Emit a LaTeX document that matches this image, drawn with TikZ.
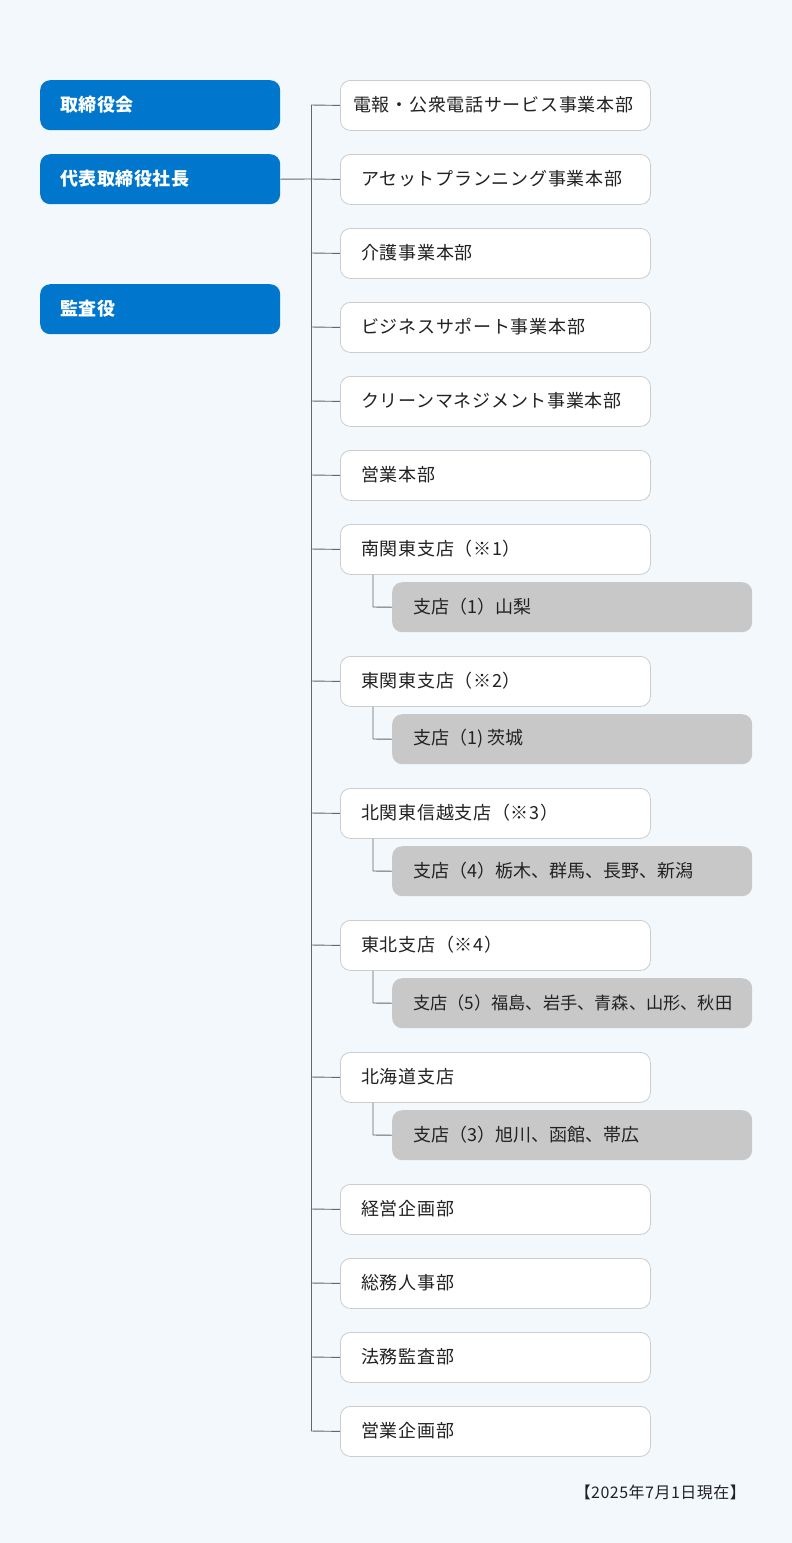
\documentclass[tikz,border=0pt]{standalone}
\usepackage{fontspec}
\newfontfamily\jp{Noto Sans CJK JP}[LetterSpace=4]
\newfontfamily\jpb{Noto Sans CJK JP}[LetterSpace=3]
\newfontfamily\jpg{Noto Sans CJK JP}
\definecolor{bg}{HTML}{F2F8FC}
\definecolor{blu}{HTML}{0077CC}
\definecolor{gry}{HTML}{C8C8C8}
\definecolor{bord}{HTML}{CCCCCC}
\definecolor{lin}{HTML}{666666}
\definecolor{txt}{HTML}{222222}
\tikzset{
  bluebox/.style={fill=blu, rounded corners=10pt, minimum width=240pt, minimum height=50pt, inner sep=0pt, anchor=north west},
  whitebox/.style={fill=white, draw=bord, line width=0.8pt, rounded corners=10pt, minimum width=310pt, minimum height=50pt, inner sep=0pt, anchor=north west},
  graybox/.style={fill=gry, rounded corners=10pt, minimum width=360pt, minimum height=50pt, inner sep=0pt, anchor=north west},
  btext/.style={anchor=west, inner sep=0pt, text=white, font=\jpb\bfseries\fontsize{18}{21}\selectfont},
  wtext/.style={anchor=west, inner sep=0pt, text=txt, font=\jp\fontsize{18}{21}\selectfont},
  gtext/.style={anchor=west, inner sep=0pt, text=txt, font=\jpg\fontsize{18}{21}\selectfont},
  conn/.style={draw=lin, line width=0.9pt},
}
\begin{document}
\begin{tikzpicture}[x=1pt,y=-1pt]
\fill[bg] (0,0) rectangle (792,1543);
\useasboundingbox (0,0) rectangle (792,1543);
% blue boxes
\node[bluebox] (b1) at (40,80) {};
\node[btext] at (60,105) {取締役会};
\node[bluebox] (b2) at (40,154) {};
\node[btext] at (60,179) {代表取締役社長};
\node[bluebox] (b3) at (40,284) {};
\node[btext] at (60,309) {監査役};
% trunk
\coordinate (tTop) at (311,105);
\coordinate (tBot) at (311,1431);
\draw[conn] (tTop) -- (tBot);
\coordinate (tMid) at (311,179);
\draw[conn] (b2.east) -- (tMid);
% white boxes
\foreach \n/\y/\x/\t in {w1/80/353/電報・公衆電話サービス事業本部, w2/154/361/アセットプランニング事業本部, w3/228/361/介護事業本部, w4/302/361/ビジネスサポート事業本部, w5/376/361/クリーンマネジメント事業本部, w6/450/361/営業本部, w7/524/361/南関東支店（※1）, w8/656/361/東関東支店（※2）, w9/788/361/北関東信越支店（※3）, w10/920/361/東北支店（※4）, w11/1052/361/北海道支店, w12/1184/361/経営企画部, w13/1258/361/総務人事部, w14/1332/361/法務監査部, w15/1406/361/営業企画部}{
  \node[whitebox] (\n) at (340,\y) {};
  \node[wtext] at (\x,\y+25) {\t};
  \coordinate (\n-j) at (311,\y+25);
  \draw[conn] (\n-j) -- (\n.west);
}
% gray boxes
\foreach \n/\p/\y/\s/\t in {g1/w7/582/18/支店（1）山梨, g2/w8/714/18/支店（1) 茨城, g3/w9/846/18/支店（4）栃木、群馬、長野、新潟, g4/w10/978/17.2/支店（5）福島、岩手、青森、山形、秋田, g5/w11/1110/18/支店（3）旭川、函館、帯広}{
  \node[graybox] (\n) at (392,\y) {};
  \node[gtext] at (413,\y+25) {\fontsize{\s}{21}\selectfont\t};
  \coordinate (\n-c) at (373,\y+25);
  \draw[conn] (\p.south -| \n-c) -- (\n-c) -- (\n.west);
}
\node[anchor=east, inner sep=0pt, text=txt, font=\jpb\fontsize{16}{19}\selectfont] (date) at (746,1492) {【2025年7月1日現在】};
\end{tikzpicture}
\end{document}
